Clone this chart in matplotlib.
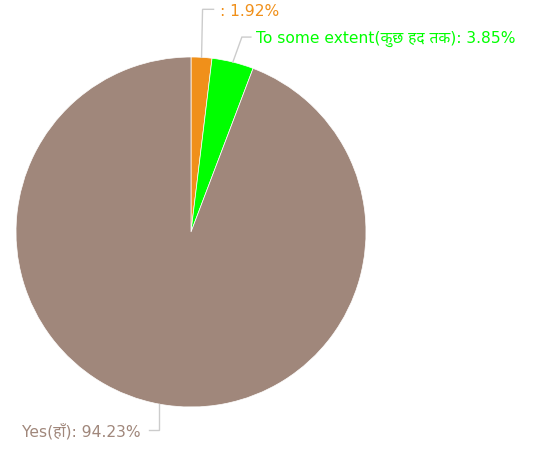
import numpy as np
import matplotlib.pyplot as plt
from matplotlib import font_manager as fm

# pick up a Devanagari-capable font for the Hindi parts of the labels
for f in fm.findSystemFonts():
    if 'NotoSansDevanagari[' in f or 'NotoSansDevanagari-Regular' in f:
        fm.fontManager.addfont(f)
FAMILIES = ['DejaVu Sans', 'Noto Sans Devanagari']

labels = ['', 'To some extent(कुछ हद तक)', 'Yes(हाँ)']
values = [1.92, 3.85, 94.23]
colors = ['#F0901A', '#00FF00', '#A0877B']

W, H = 537, 450
fig = plt.figure(figsize=(W / 100, H / 100), dpi=100)
ax = fig.add_axes([0, 0, 1, 1])

cx, cy, r = 191, H - 232, 175
wedges, _ = ax.pie(values, colors=colors, startangle=90, counterclock=False,
                   center=(cx, cy), radius=r,
                   wedgeprops=dict(edgecolor='white', linewidth=0.5))
ax.set_xlim(0, W)
ax.set_ylim(0, H)
ax.set_aspect('equal')
ax.axis('off')

# leader line: (elbow dx, dy from anchor), horizontal run, text gap
leaders = [
    ((1, 48), 11, 6, 'left'),
    ((9, 25), 9, 5, 'left'),
    ((0, -26), -10, -9, 'right'),
]
for w, lab, val, col, (el, run, gap, ha) in zip(wedges, labels, values, colors, leaders):
    mid = np.deg2rad((w.theta1 + w.theta2) / 2)
    ax0 = cx + r * np.cos(mid)
    ay0 = cy + r * np.sin(mid)
    ex, ey = ax0 + el[0], ay0 + el[1]
    hx = ex + run
    ax.plot([ax0, ex, hx], [ay0, ey, ey], color='#cccccc', lw=1, solid_joinstyle='miter')
    ax.text(hx + gap, ey - 2, f'{lab}: {val:.2f}%', color=col, fontsize=11.2,
            ha=ha, va='center', family=FAMILIES)

fig.savefig('out.png', dpi=100)
